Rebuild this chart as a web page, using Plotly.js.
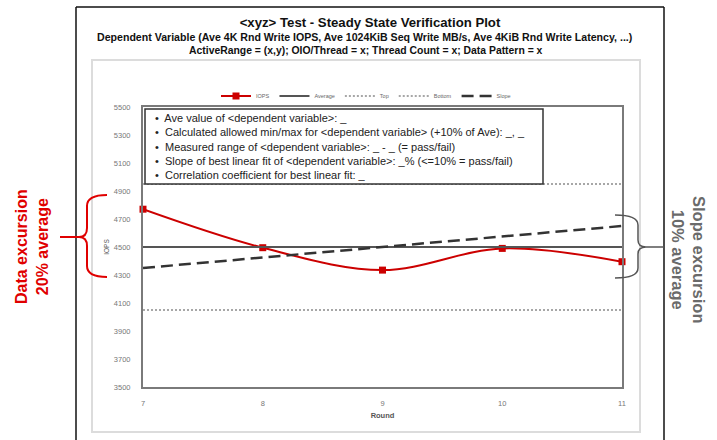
<!DOCTYPE html>
<html>
<head>
<meta charset="utf-8">
<script src="https://cdn.plot.ly/plotly-3.0.1.min.js"></script>
<style>html,body{margin:0;padding:0;background:#fff;}#chart{width:717px;height:440px;}</style>
</head>
<body>
<div id="chart"></div>
<script>
// ---- data ----
const rounds = [7, 8, 9, 10, 11];
const iops = [4770, 4495, 4335, 4490, 4395];
const average = [4500, 4500, 4500, 4500, 4500];
const top10 = [4950, 4950, 4950, 4950, 4950];
const bottom10 = [4050, 4050, 4050, 4050, 4050];
const slope = [4350, 4425, 4500, 4575, 4650];
const yTicks = [3500, 3700, 3900, 4100, 4300, 4500, 4700, 4900, 5100, 5300, 5500];
const seriesNames = ['IOPS', 'Average', 'Top', 'Bottom', 'Slope'];

// ---- layout helpers (pixel -> paper) ----
const L = 143, R = 622, T = 107, B = 387;
const px = x => (x - L) / (R - L);
const py = y => (B - y) / (B - T);
function pth(segs) {
  return segs.map(s => {
    let out = s[0];
    for (let i = 1; i < s.length; i += 2) out += ' ' + px(s[i]).toFixed(5) + ',' + py(s[i + 1]).toFixed(5);
    return out;
  }).join(' ');
}
const FONT = 'Liberation Sans, Arial, sans-serif';

const traces = [
  {x: rounds, y: iops, name: seriesNames[0], mode: 'lines+markers', cliponaxis: false,
   line: {color: '#cc0000', width: 2, shape: 'spline', smoothing: 1},
   marker: {symbol: 'square', size: 7, color: '#cc0000'}},
  {x: rounds, y: average, name: seriesNames[1], mode: 'lines', line: {color: '#555555', width: 2}},
  {x: rounds, y: top10, name: seriesNames[2], mode: 'lines', line: {color: '#8a8a8a', width: 1.5, dash: '2px,2px'}},
  {x: rounds, y: bottom10, name: seriesNames[3], mode: 'lines', line: {color: '#8a8a8a', width: 1.5, dash: '2px,2px'}},
  {x: rounds, y: slope, name: seriesNames[4], mode: 'lines', line: {color: '#333333', width: 2.5, dash: '12px,6px'}}
];

const shapes = [
  // outer black frame
  {type: 'line', xref: 'paper', yref: 'paper', x0: px(76), x1: px(76), y0: py(7), y1: py(440), line: {color: '#111', width: 1.5}},
  {type: 'line', xref: 'paper', yref: 'paper', x0: px(76), x1: px(664), y0: py(7), y1: py(7), line: {color: '#111', width: 1.5}},
  {type: 'line', xref: 'paper', yref: 'paper', x0: px(664), x1: px(664), y0: py(7), y1: py(440), line: {color: '#111', width: 1.5}},
  // light chart-area border
  {type: 'rect', xref: 'paper', yref: 'paper', x0: px(92), x1: px(640), y0: py(432), y1: py(60), line: {color: '#dcdcdc', width: 2}, layer: 'below'},
  // text box
  {type: 'rect', xref: 'paper', yref: 'paper', x0: px(145), x1: px(543), y0: py(184), y1: py(109),
   fillcolor: '#ffffff', line: {color: '#333', width: 1.5}, layer: 'above'},
  // left red brace
  {type: 'path', xref: 'paper', yref: 'paper', layer: 'above', line: {color: '#e00000', width: 2},
   path: pth([['M', 107, 195], ['Q', 87, 195, 87, 206], ['L', 87, 228], ['Q', 87, 237, 79, 237],
              ['Q', 87, 237, 87, 246], ['L', 87, 266], ['Q', 87, 277, 107, 277]])},
  {type: 'line', xref: 'paper', yref: 'paper', x0: px(60), x1: px(79), y0: py(237), y1: py(237), line: {color: '#e00000', width: 2}},
  // right gray brace
  {type: 'path', xref: 'paper', yref: 'paper', layer: 'above', line: {color: '#555', width: 1.5},
   path: pth([['M', 615, 215], ['Q', 638, 215, 638, 225], ['L', 638, 240], ['Q', 638, 247, 646, 247],
              ['Q', 638, 247, 638, 254], ['L', 638, 268], ['Q', 638, 278, 615, 278]])},
  {type: 'line', xref: 'paper', yref: 'paper', x0: px(646), x1: px(664), y0: py(247), y1: py(247), line: {color: '#555', width: 1.5}}
];

const boxText = [
  '•  Ave value of &lt;dependent variable&gt;: _',
  '•  Calculated allowed min/max for &lt;dependent variable&gt; (+10% of Ave): _, _',
  '•  Measured range of &lt;dependent variable&gt;: _ - _ (= pass/fail)',
  '•  Slope of best linear fit of &lt;dependent variable&gt;: _% (&lt;=10% = pass/fail)',
  '•  Correlation coefficient for best linear fit: _'
].join('<br>');

const annotations = [
  {xref: 'paper', yref: 'paper', x: px(364), y: py(37), xanchor: 'center', yanchor: 'middle', showarrow: false,
   text: '<b>Dependent Variable (Ave 4K Rnd Write IOPS, Ave 1024KiB Seq Write MB/s, Ave 4KiB Rnd Write Latency, ...)</b>',
   font: {family: FONT, size: 10.6, color: '#111'}},
  {xref: 'paper', yref: 'paper', x: px(366), y: py(50), xanchor: 'center', yanchor: 'middle', showarrow: false,
   text: '<b>ActiveRange = (x,y); OIO/Thread = x; Thread Count = x; Data Pattern = x</b>',
   font: {family: FONT, size: 10.4, color: '#111'}},
  {xref: 'paper', yref: 'paper', x: px(153), y: py(110), xanchor: 'left', yanchor: 'top', align: 'left', showarrow: false,
   text: boxText, font: {family: FONT, size: 11, color: '#222'}},
  {xref: 'paper', yref: 'paper', x: px(32), y: py(247), xanchor: 'center', yanchor: 'middle', showarrow: false, textangle: -90,
   text: '<b>Data excursion<br>20% average</b>', font: {family: FONT, size: 16, color: '#e00000'}},
  {xref: 'paper', yref: 'paper', x: px(689), y: py(259), xanchor: 'center', yanchor: 'middle', showarrow: false, textangle: 90,
   text: '<b>Slope excursion<br>10% average</b>', font: {family: FONT, size: 16.5, color: '#6a6a6a'}}
];

const layout = {
  width: 717, height: 440,
  margin: {l: L, r: 717 - R, t: T, b: 440 - B, pad: 0},
  paper_bgcolor: '#ffffff', plot_bgcolor: '#ffffff',
  font: {family: FONT, color: '#555'},
  title: {text: '<b>&lt;xyz&gt; Test - Steady State Verification Plot</b>', font: {family: FONT, size: 13.2, color: '#111'},
          xref: 'container', yref: 'container', x: 370 / 717, xanchor: 'center', y: 1 - 22 / 440, yanchor: 'middle'},
  xaxis: {range: [7, 11], tickvals: rounds, ticktext: rounds.map(String), showgrid: false, zeroline: false,
          showline: true, mirror: true, linecolor: '#7a7a7a', linewidth: 2,
          ticks: 'outside', ticklen: 8, tickcolor: 'rgba(0,0,0,0)',
          tickfont: {family: FONT, size: 7.5, color: '#777'},
          title: {text: '<b>Round</b>', font: {family: FONT, size: 7.5, color: '#555'}, standoff: 6}},
  yaxis: {range: [3500, 5500], tickvals: yTicks, ticktext: yTicks.map(String), showgrid: false, zeroline: false,
          showline: true, mirror: true, linecolor: '#7a7a7a', linewidth: 2,
          ticks: 'outside', ticklen: 9, tickcolor: 'rgba(0,0,0,0)',
          tickfont: {family: FONT, size: 7.5, color: '#777'},
          title: {text: 'IOPS', font: {family: FONT, size: 6.5, color: '#555'}, standoff: 4}},
  showlegend: true,
  legend: {orientation: 'h', x: px(366), xanchor: 'center', y: py(96), yanchor: 'middle',
           font: {family: FONT, size: 5.5, color: '#666'}, itemwidth: 30, tracegroupgap: 0, bgcolor: 'rgba(0,0,0,0)'},
  shapes: shapes,
  annotations: annotations
};

Plotly.newPlot('chart', traces, layout, {displayModeBar: false, staticPlot: true});
</script>
</body>
</html>
